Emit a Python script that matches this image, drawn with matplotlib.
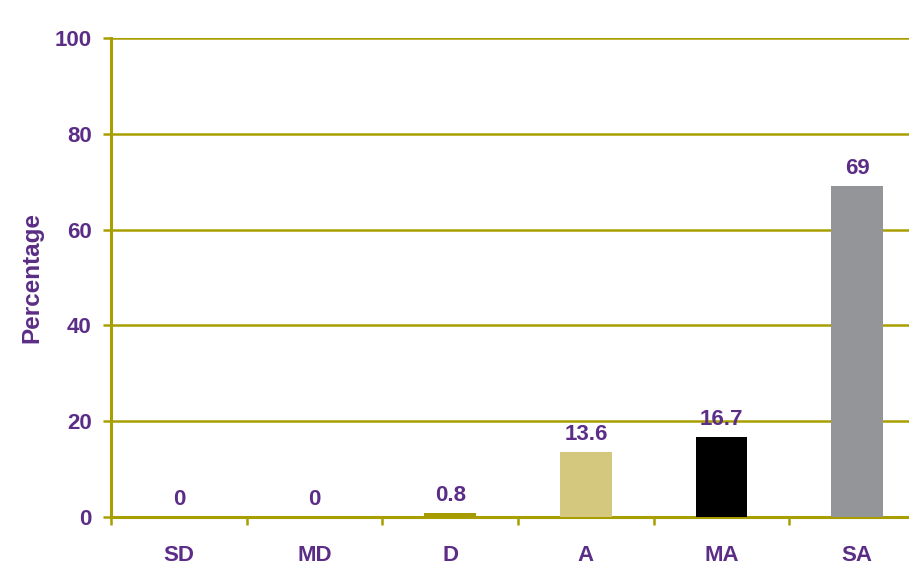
import matplotlib
matplotlib.use("Agg")
import matplotlib.pyplot as plt

categories = ["SD", "MD", "D", "A", "MA", "SA"]
values = [0, 0, 0.8, 13.6, 16.7, 69]
labels = ["0", "0", "0.8", "13.6", "16.7", "69"]
bar_colors = ["#a59a00", "#a59a00", "#a59a00", "#d4c87e", "#000000", "#939598"]
yticks = [0, 20, 40, 60, 80, 100]

olive = "#a89e00"
purple = "#5b2d86"
plt.rcParams['font.family'] = ['Liberation Sans', 'DejaVu Sans']
fs = 16

W, H = 909, 567
fig = plt.figure(figsize=(W / 100, H / 100), dpi=100)
left, right = 111, 925
top, bottom = 38, 517
ax = fig.add_axes([left / W, 1 - bottom / H, (right - left) / W, (bottom - top) / H])

x = list(range(len(categories)))
ax.bar(x, values, width=0.38, color=bar_colors, zorder=3)
for xi, v, lab in zip(x, values, labels):
    ax.text(xi, v + 1.5, lab, ha="center", va="bottom", color=purple,
            fontsize=fs, fontweight="bold")

ax.set_xlim(-0.5, len(categories) - 0.5)
ax.set_ylim(0, 100)
ax.set_yticks(yticks)
ax.set_yticklabels([str(t) for t in yticks], color=purple, fontsize=fs, fontweight="bold")
ax.yaxis.grid(True, color=olive, linewidth=1.8, zorder=0)
ax.set_axisbelow(True)

ax.set_xticks([i + 0.5 for i in range(-1, len(categories))])
ax.set_xticklabels([])
ax.set_xticks(x, minor=True)
ax.set_xticklabels(categories, minor=True, color=purple, fontsize=fs, fontweight="bold")
ax.tick_params(axis="x", which="minor", length=0, pad=20)
ax.tick_params(axis="x", which="major", length=6, width=1.8, color=olive)
ax.tick_params(axis="y", length=6, width=1.8, color=olive, pad=8)

for s in ["top", "right"]:
    ax.spines[s].set_visible(False)
for s in ["left", "bottom"]:
    ax.spines[s].set_color(olive)
    ax.spines[s].set_linewidth(2.2)

ax.set_ylabel("Percentage", color=purple, fontsize=17.5, fontweight="bold", labelpad=8)

fig.savefig("out.png", dpi=100)
